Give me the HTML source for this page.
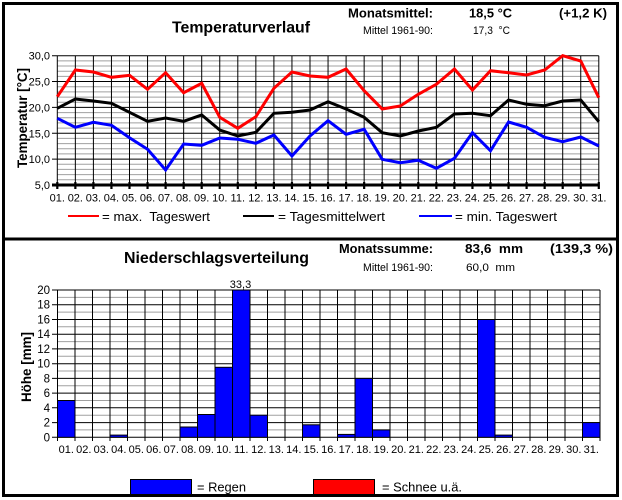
<!DOCTYPE html>
<html><head><meta charset="utf-8"><style>
html,body{margin:0;padding:0;background:#fff;}
svg{display:block;font-family:"Liberation Sans",Arial,sans-serif;}
</style></head><body>
<svg width="622" height="500" viewBox="0 0 622 500" xmlns="http://www.w3.org/2000/svg">
<rect width="622" height="500" fill="#fff"/>
<!-- frame -->
<rect x="3.5" y="3.5" width="614" height="492" fill="none" stroke="#000" stroke-width="3"/>
<line x1="2" y1="239" x2="619" y2="239" stroke="#000" stroke-width="3"/>

<!-- ===== TEMPERATURE CHART ===== -->
<text x="172" y="32.5" font-size="16" font-weight="bold" textLength="138" lengthAdjust="spacingAndGlyphs">Temperaturverlauf</text>
<text x="348" y="17.5" font-size="13" font-weight="bold" textLength="85" lengthAdjust="spacingAndGlyphs">Monatsmittel:</text>
<text x="469" y="17.5" font-size="13" font-weight="bold" textLength="43" lengthAdjust="spacingAndGlyphs">18,5 °C</text>
<text x="559" y="17.5" font-size="13" font-weight="bold" textLength="48" lengthAdjust="spacingAndGlyphs">(+1,2 K)</text>
<text x="363" y="34" font-size="11" textLength="70" lengthAdjust="spacingAndGlyphs">Mittel 1961-90:</text>
<text x="473" y="34" font-size="11" textLength="37" lengthAdjust="spacingAndGlyphs">17,3&#160; °C</text>

<text transform="translate(27,118) rotate(-90)" text-anchor="middle" font-size="14" font-weight="bold" textLength="100" lengthAdjust="spacingAndGlyphs">Temperatur [°C]</text>

<!-- minor grid -->
<path stroke="#a0a0a0" stroke-width="1" fill="none" d="M57.3 60.9H598.8M57.3 66H598.8M57.3 71.2H598.8M57.3 76.4H598.8M57.3 86.7H598.8M57.3 91.9H598.8M57.3 97.1H598.8M57.3 102.2H598.8M57.3 112.6H598.8M57.3 117.7H598.8M57.3 122.9H598.8M57.3 128.1H598.8M57.3 138.4H598.8M57.3 143.6H598.8M57.3 148.8H598.8M57.3 153.9H598.8M57.3 164.3H598.8M57.3 169.4H598.8M57.3 174.6H598.8M57.3 179.8H598.8"/>
<!-- major grid -->
<path stroke="#000" stroke-width="1" fill="none" d="M52 55.7H598.8M52 81.55H598.8M52 107.4H598.8M52 133.25H598.8M52 159.1H598.8
M57.3 55.7V185M75.35 55.7V185M93.4 55.7V185M111.45 55.7V185M129.5 55.7V185M147.55 55.7V185M165.6 55.7V185M183.65 55.7V185M201.7 55.7V185M219.75 55.7V185M237.8 55.7V185M255.85 55.7V185M273.9 55.7V185M291.95 55.7V185M310 55.7V185M328.05 55.7V185M346.1 55.7V185M364.15 55.7V185M382.2 55.7V185M400.25 55.7V185M418.3 55.7V185M436.35 55.7V185M454.4 55.7V185M472.45 55.7V185M490.5 55.7V185M508.55 55.7V185M526.6 55.7V185M544.65 55.7V185M562.7 55.7V185M580.75 55.7V185M598.8 55.7V185"/>
<!-- x axis thick + ticks -->
<line x1="52" y1="185" x2="599.5" y2="185" stroke="#000" stroke-width="3"/>
<path stroke="#000" stroke-width="2.2" fill="none" d="M57.3 182V189M75.35 182V189M93.4 182V189M111.45 182V189M129.5 182V189M147.55 182V189M165.6 182V189M183.65 182V189M201.7 182V189M219.75 182V189M237.8 182V189M255.85 182V189M273.9 182V189M291.95 182V189M310 182V189M328.05 182V189M346.1 182V189M364.15 182V189M382.2 182V189M400.25 182V189M418.3 182V189M436.35 182V189M454.4 182V189M472.45 182V189M490.5 182V189M508.55 182V189M526.6 182V189M544.65 182V189M562.7 182V189M580.75 182V189M598.8 182V189"/>

<!-- y tick labels -->
<g font-size="11" text-anchor="end">
<text x="50" y="59.7">30,0</text>
<text x="50" y="85.5">25,0</text>
<text x="50" y="111.4">20,0</text>
<text x="50" y="137.3">15,0</text>
<text x="50" y="163.1">10,0</text>
<text x="50" y="189">5,0</text>
</g>
<!-- x tick labels -->
<g font-size="11" text-anchor="middle">
<text x="57.3" y="201.5">01.</text><text x="75.35" y="201.5">02.</text><text x="93.4" y="201.5">03.</text><text x="111.45" y="201.5">04.</text><text x="129.5" y="201.5">05.</text><text x="147.55" y="201.5">06.</text><text x="165.6" y="201.5">07.</text><text x="183.65" y="201.5">08.</text><text x="201.7" y="201.5">09.</text><text x="219.75" y="201.5">10.</text><text x="237.8" y="201.5">11.</text><text x="255.85" y="201.5">12.</text><text x="273.9" y="201.5">13.</text><text x="291.95" y="201.5">14.</text><text x="310" y="201.5">15.</text><text x="328.05" y="201.5">16.</text><text x="346.1" y="201.5">17.</text><text x="364.15" y="201.5">18.</text><text x="382.2" y="201.5">19.</text><text x="400.25" y="201.5">20.</text><text x="418.3" y="201.5">21.</text><text x="436.35" y="201.5">22.</text><text x="454.4" y="201.5">23.</text><text x="472.45" y="201.5">24.</text><text x="490.5" y="201.5">25.</text><text x="508.55" y="201.5">26.</text><text x="526.6" y="201.5">27.</text><text x="544.65" y="201.5">28.</text><text x="562.7" y="201.5">29.</text><text x="580.75" y="201.5">30.</text><text x="598.8" y="201.5">31.</text>
</g>

<!-- series -->
<g fill="none" stroke-width="3" stroke-linejoin="miter">
<polyline stroke="#ff0000" points="57.3,96.7 75.35,70 93.4,72 111.45,77.3 129.5,75.3 147.55,89.3 165.6,72.7 183.65,92.7 201.7,83.3 219.75,117.3 237.8,128.3 255.85,116.7 273.9,88.3 291.95,72 310,76 328.05,77.3 346.1,69 364.15,90.7 382.2,109 400.25,106 418.3,94.3 436.35,84.3 454.4,69 472.45,90 490.5,70.7 508.55,72.7 526.6,75 544.65,70 562.7,55.7 580.75,61 598.8,97.7"/>
<polyline stroke="#000000" points="57.3,108.3 75.35,99 93.4,101 111.45,103.3 129.5,112.3 147.55,121.3 165.6,118 183.65,121.3 201.7,115 219.75,130 237.8,136 255.85,132.3 273.9,113.3 291.95,112.3 310,110 328.05,101.7 346.1,109 364.15,117.3 382.2,132.7 400.25,136 418.3,131 436.35,127.3 454.4,114 472.45,113.3 490.5,115.7 508.55,100 526.6,104.3 544.65,105.7 562.7,101 580.75,100 598.8,121.7"/>
<polyline stroke="#0000ff" points="57.3,118.3 75.35,127.3 93.4,122.3 111.45,125.3 129.5,137.7 147.55,149.3 165.6,170 183.65,144 201.7,145.3 219.75,138 237.8,139.3 255.85,143.3 273.9,135 291.95,156 310,136 328.05,120.7 346.1,134.3 364.15,129.3 382.2,159.3 400.25,162.7 418.3,160.3 436.35,168.3 454.4,158.3 472.45,132.7 490.5,150.7 508.55,122 526.6,127.3 544.65,137.3 562.7,141.7 580.75,137 598.8,146"/>
</g>

<!-- temp legend -->
<line x1="68" y1="216" x2="99" y2="216" stroke="#ff0000" stroke-width="2"/>
<text x="102" y="221" font-size="13" textLength="108" lengthAdjust="spacingAndGlyphs">= max.&#160; Tageswert</text>
<line x1="243" y1="216" x2="274" y2="216" stroke="#000" stroke-width="2"/>
<text x="278" y="221" font-size="13" textLength="107" lengthAdjust="spacingAndGlyphs">= Tagesmittelwert</text>
<line x1="419" y1="216" x2="452" y2="216" stroke="#0000ff" stroke-width="2"/>
<text x="455" y="221" font-size="13" textLength="102" lengthAdjust="spacingAndGlyphs">= min. Tageswert</text>

<!-- ===== PRECIPITATION CHART ===== -->
<text x="124" y="263" font-size="16" font-weight="bold" textLength="185" lengthAdjust="spacingAndGlyphs">Niederschlagsverteilung</text>
<text x="339" y="253" font-size="13" font-weight="bold" textLength="94" lengthAdjust="spacingAndGlyphs">Monatssumme:</text>
<text x="465" y="253" font-size="13" font-weight="bold" textLength="58" lengthAdjust="spacingAndGlyphs">83,6&#160; mm</text>
<text x="550" y="253" font-size="13" font-weight="bold" textLength="63" lengthAdjust="spacingAndGlyphs">(139,3 %)</text>
<text x="363" y="271" font-size="11" textLength="70" lengthAdjust="spacingAndGlyphs">Mittel 1961-90:</text>
<text x="466" y="271" font-size="11" textLength="49" lengthAdjust="spacingAndGlyphs">60,0&#160; mm</text>

<text transform="translate(31,367) rotate(-90)" text-anchor="middle" font-size="14" font-weight="bold" textLength="70" lengthAdjust="spacingAndGlyphs">Höhe [mm]</text>

<!-- minor grid -->
<path stroke="#a0a0a0" stroke-width="1" fill="none" d="M57.5 429.9H600M57.5 415.2H600M57.5 400.5H600M57.5 385.7H600M57.5 371H600M57.5 356.3H600M57.5 341.6H600M57.5 326.8H600M57.5 312.1H600M57.5 297.4H600"/>
<!-- major grid -->
<path stroke="#000" stroke-width="1" fill="none" d="M52 437.3H600M52 422.6H600M52 407.8H600M52 393.1H600M52 378.4H600M52 363.7H600M52 348.9H600M52 334.2H600M52 319.5H600M52 304.7H600M52 290H600
M57.5 290V441M75 290V441M92.5 290V441M110 290V441M127.5 290V441M145 290V441M162.5 290V441M180 290V441M197.5 290V441M215 290V441M232.5 290V441M250 290V441M267.5 290V441M285 290V441M302.5 290V441M320 290V441M337.5 290V441M355 290V441M372.5 290V441M390 290V441M407.5 290V441M425 290V441M442.5 290V441M460 290V441M477.5 290V441M495 290V441M512.5 290V441M530 290V441M547.5 290V441M565 290V441M582.5 290V441M600 290V441"/>

<!-- bars -->
<g fill="#0000ff" stroke="#000" stroke-width="1">
<rect x="57.5" y="400.5" width="17.5" height="36.8"/>
<rect x="110" y="435.1" width="17.5" height="2.2"/>
<rect x="180" y="427" width="17.5" height="10.3"/>
<rect x="197.5" y="414.5" width="17.5" height="22.8"/>
<rect x="215" y="367.3" width="17.5" height="70"/>
<rect x="232.5" y="290" width="17.5" height="147.3"/>
<rect x="250" y="415.2" width="17.5" height="22.1"/>
<rect x="302.5" y="424.8" width="17.5" height="12.5"/>
<rect x="337.5" y="434.4" width="17.5" height="2.9"/>
<rect x="355" y="378.4" width="17.5" height="58.9"/>
<rect x="372.5" y="429.9" width="17.5" height="7.4"/>
<rect x="477.5" y="319.5" width="17.5" height="117.8"/>
<rect x="495" y="435.1" width="17.5" height="2.2"/>
<rect x="582.5" y="422.6" width="17.5" height="14.7"/>
</g>
<text x="240.5" y="288" font-size="11" text-anchor="middle">33,3</text>

<!-- y tick labels -->
<g font-size="11.5" text-anchor="end">
<text x="50" y="294">20</text>
<text x="50" y="308.7">18</text>
<text x="50" y="323.5">16</text>
<text x="50" y="338.2">14</text>
<text x="50" y="352.9">12</text>
<text x="50" y="367.7">10</text>
<text x="50" y="382.4">8</text>
<text x="50" y="397.1">6</text>
<text x="50" y="411.8">4</text>
<text x="50" y="426.6">2</text>
<text x="50" y="441.3">0</text>
</g>
<!-- x tick labels -->
<g font-size="11" text-anchor="middle">
<text x="66.25" y="453">01.</text><text x="83.75" y="453">02.</text><text x="101.25" y="453">03.</text><text x="118.75" y="453">04.</text><text x="136.25" y="453">05.</text><text x="153.75" y="453">06.</text><text x="171.25" y="453">07.</text><text x="188.75" y="453">08.</text><text x="206.25" y="453">09.</text><text x="223.75" y="453">10.</text><text x="241.25" y="453">11.</text><text x="258.75" y="453">12.</text><text x="276.25" y="453">13.</text><text x="293.75" y="453">14.</text><text x="311.25" y="453">15.</text><text x="328.75" y="453">16.</text><text x="346.25" y="453">17.</text><text x="363.75" y="453">18.</text><text x="381.25" y="453">19.</text><text x="398.75" y="453">20.</text><text x="416.25" y="453">21.</text><text x="433.75" y="453">22.</text><text x="451.25" y="453">23.</text><text x="468.75" y="453">24.</text><text x="486.25" y="453">25.</text><text x="503.75" y="453">26.</text><text x="521.25" y="453">27.</text><text x="538.75" y="453">28.</text><text x="556.25" y="453">29.</text><text x="573.75" y="453">30.</text><text x="591.25" y="453">31.</text>
</g>

<!-- precip legend -->
<rect x="130.5" y="479.5" width="61" height="15" fill="#0000ff" stroke="#000" stroke-width="1"/>
<text x="197" y="491.7" font-size="13" textLength="49" lengthAdjust="spacingAndGlyphs">= Regen</text>
<rect x="313.5" y="479.5" width="61" height="15" fill="#ff0000" stroke="#000" stroke-width="1"/>
<text x="382" y="491.7" font-size="13" textLength="80" lengthAdjust="spacingAndGlyphs">= Schnee u.ä.</text>
</svg>
</body></html>
